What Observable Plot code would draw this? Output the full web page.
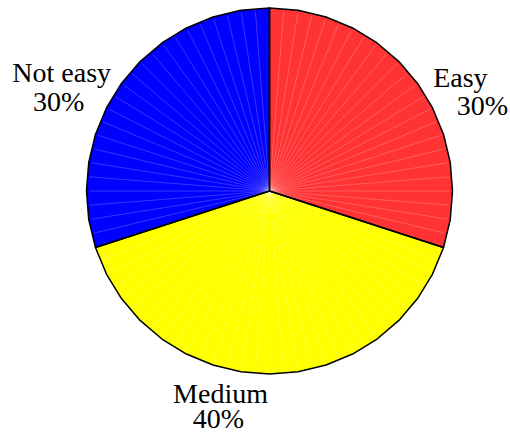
<!DOCTYPE html>
<html>
<head>
<meta charset="utf-8">
<script src="https://cdn.jsdelivr.net/npm/d3@7"></script>
<script src="https://cdn.jsdelivr.net/npm/@observablehq/plot@0.6"></script>
<style>
  html, body { margin: 0; padding: 0; background: #ffffff; }
  #chart { width: 510px; height: 432px; }
  #chart svg text { font-family: "Liberation Serif", serif !important; }
</style>
</head>
<body>
<div id="chart"></div>
<script>
// ---- data ----
const categories = ["Easy", "Medium", "Not easy"];
const percents = [30, 40, 30];
const colors = ["#ff3333", "#ffff00", "#0000ff"];

// ---- layout (pixel nudges for the two label lines, relative to the 1.1r anchor) ----
const nameNudge = [[28, 14], [-49, 11], [-45, 9]];
const pctNudge = [[50, 42], [-51, 36], [-48, 38]];

// ---- geometry (unit circle, clockwise from 12 o'clock) ----
const W = 510, H = 432, CX = 269, CY = 190.5, R = 183;
const total = d3.sum(percents);
const rim = (t, r = 1) => {
  const a = Math.PI / 2 - 2 * Math.PI * t;
  return {x: r * Math.cos(a), y: r * Math.sin(a)};
};

let cum = 0;
const slices = categories.map((name, i) => {
  const f = percents[i] / total;
  const s = cum;
  cum += f;
  const n = Math.max(1, Math.round(f * 40));
  const pts = [{x: 0, y: 0}];
  for (let k = 0; k <= n; k++) pts.push(rim(s + f * k / n));
  const seams = [];
  for (let k = 1; k < 2 * n; k++) seams.push(rim(s + f * k / (2 * n), 0.985));
  const mid = rim(s + f / 2, 1.1);
  return {name, pct: percents[i] + "%", color: colors[i], pts, seams, mid, i};
});

const sliceMarks = slices.map(sl =>
  Plot.line(sl.pts, {x: "x", y: "y", curve: "linear-closed", fill: sl.color, stroke: "none"})
);
const seamMarks = slices.map(sl =>
  Plot.link(sl.seams, {x1: 0, y1: 0, x2: "x", y2: "y", stroke: "white", strokeOpacity: 0.35, strokeWidth: 0.6})
);
const outlineMarks = slices.map(sl =>
  Plot.line(sl.pts, {x: "x", y: "y", curve: "linear-closed", fill: "none", stroke: "black", strokeWidth: 1.5, strokeLinejoin: "round"})
);

const labelData = slices.map(sl => ({
  x: sl.mid.x, y: sl.mid.y, name: sl.name, pct: sl.pct,
  ndx: nameNudge[sl.i][0], ndy: nameNudge[sl.i][1],
  pdx: pctNudge[sl.i][0], pdy: pctNudge[sl.i][1]
}));

const font = "Liberation Serif, serif";
const textMarks = labelData.map(d => [
  Plot.text([d], {x: "x", y: "y", text: "name", dx: d.ndx, dy: d.ndy, textAnchor: "middle", lineAnchor: "bottom", fontSize: 28, fill: "black", fontFamily: font}),
  Plot.text([d], {x: "x", y: "y", text: "pct", dx: d.pdx, dy: d.pdy, textAnchor: "middle", lineAnchor: "bottom", fontSize: 28, fill: "black", fontFamily: font})
]).flat();

const chart = Plot.plot({
  width: W,
  height: H,
  margin: 0,
  x: {axis: null, domain: [-CX / R, (W - CX) / R]},
  y: {axis: null, domain: [(CY - H) / R, CY / R]},
  style: {background: "white", overflow: "visible"},
  marks: [...sliceMarks, ...seamMarks, ...outlineMarks, ...textMarks]
});
document.getElementById("chart").appendChild(chart);
</script>
</body>
</html>
